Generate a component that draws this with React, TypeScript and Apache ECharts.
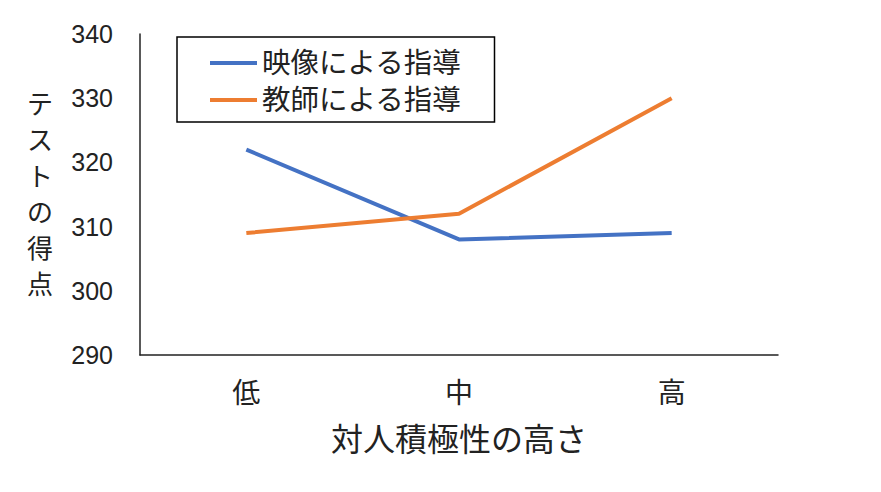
import React, { useEffect, useRef } from "react";
import * as echarts from "echarts";

const categories = ["低", "中", "高"];
const videoScores = [322, 308, 309];
const teacherScores = [309, 312, 330];
const seriesNames = ["映像による指導", "教師による指導"];
const yMin = 290;
const yMax = 340;
const yStep = 10;

const FONT = "'Liberation Sans', 'Noto Sans CJK JP', sans-serif";

export default function App() {
  const ref = useRef<HTMLDivElement>(null);
  useEffect(() => {
    document.body.style.margin = "0";
    const chart = echarts.init(ref.current!, null, { renderer: "svg" });
    chart.setOption({
      animation: false,
      backgroundColor: "#ffffff",
      textStyle: { fontFamily: FONT, color: "#222" },
      grid: { left: 140, right: 103, top: 34, bottom: 137 },
      legend: {
        orient: "vertical",
        left: 177,
        top: 37,
        padding: [11, 33, 7, 33],
        itemGap: 7,
        itemWidth: 47,
        itemHeight: 4,
        icon: "rect",
        borderColor: "#000",
        borderWidth: 1.5,
        textStyle: { fontSize: 28.5, lineHeight: 30, color: "#222", fontFamily: FONT },
        data: seriesNames,
      },
      xAxis: {
        type: "category",
        data: categories,
        boundaryGap: true,
        axisLine: { lineStyle: { color: "#222", width: 1.5 } },
        axisTick: { show: false },
        axisLabel: { fontSize: 28, color: "#222", margin: 24 },
        name: "対人積極性の高さ",
        nameLocation: "middle",
        nameGap: 69,
        nameTextStyle: { fontSize: 32, color: "#222" },
      },
      yAxis: {
        type: "value",
        min: yMin,
        max: yMax,
        interval: yStep,
        axisLine: { show: true, lineStyle: { color: "#222", width: 1.5 } },
        axisTick: { show: false },
        splitLine: { show: false },
        axisLabel: { fontSize: 25, color: "#222", margin: 27 },
        name: "テ\nス\nト\nの\n得\n点",
        nameLocation: "middle",
        nameRotate: 0,
        nameGap: 87,
        nameTextStyle: { fontSize: 26, lineHeight: 36, color: "#222", align: "right", verticalAlign: "middle" },
      },
      series: [
        {
          name: seriesNames[0],
          type: "line",
          data: videoScores,
          symbol: "none",
          color: "#4472C4",
          lineStyle: { width: 4, color: "#4472C4" },
        },
        {
          name: seriesNames[1],
          type: "line",
          data: teacherScores,
          symbol: "none",
          color: "#ED7D31",
          lineStyle: { width: 4, color: "#ED7D31" },
        },
      ],
    });
    return () => chart.dispose();
  }, []);
  return <div ref={ref} style={{ width: 881, height: 492 }} />;
}
